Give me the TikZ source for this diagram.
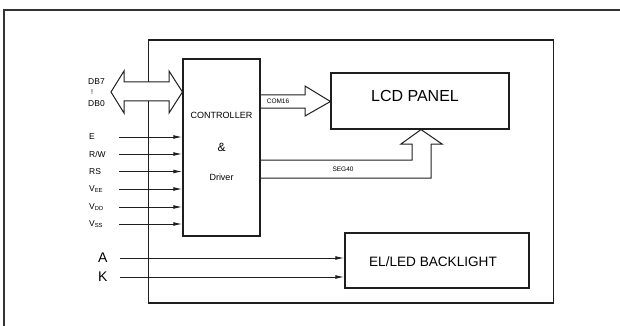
\documentclass[tikz,border=0pt]{standalone}
\usepackage{fontspec}
\setmainfont{Liberation Sans}
\usetikzlibrary{arrows.meta}
\definecolor{ink}{HTML}{1E1E1E}
\definecolor{frame}{HTML}{333333}
\newcommand{\sublbl}[2]{#1\raisebox{-1.6pt}{\fontsize{5.8}{6}\selectfont #2}}
\begin{document}
\begin{tikzpicture}[x=1pt,y=-1pt,
  box/.style={draw=ink,line width=1.1pt,inner sep=0pt},
  sig/.style={draw=ink,line width=1pt,-{Latex[length=9pt,width=3.8pt]}},
  pin/.style={font=\fontsize{8.5}{9}\selectfont,anchor=west,inner sep=0pt,text=black},
  bigpin/.style={font=\fontsize{14}{15}\selectfont,anchor=west,inner sep=0pt,text=black},
  tiny/.style={font=\fontsize{6.5}{7}\selectfont,inner sep=0pt,text=black},
  fat/.style={draw=ink,line width=1pt,line join=miter}]
\useasboundingbox (0,0) rectangle (620,326);
% outer frame (open at right and bottom)
\draw[frame,line width=2pt] (4,326) -- (4,10) -- (620,10);
% module outline
\node[box,minimum width=405pt,minimum height=263pt] (module) at (351,171.5) {};
% blocks
\node[box,fill=white,minimum width=77pt,minimum height=177pt] (ctrl) at (221.5,147.5) {};
\node[box,fill=white,minimum width=178pt,minimum height=56pt] (lcd) at (420,101) {};
\node[box,fill=white,minimum width=184pt,minimum height=55pt] (el) at (437,260.5) {};
% block texts
\node[font=\fontsize{9}{10}\selectfont] (tc) at (221.5,115) {CONTROLLER};
\node[font=\fontsize{12}{13}\selectfont] (tamp) at (221.5,147) {\&};
\node[font=\fontsize{9}{10}\selectfont] (td) at (221.5,177) {Driver};
\node[font=\fontsize{16}{17}\selectfont] (tlcd) at (415,96) {LCD PANEL};
\node[font=\fontsize{13.6}{15}\selectfont] (tel) at (433,262) {EL/LED BACKLIGHT};
% data bus double arrow
\draw[fat,fill=white] (111,92) -- (124,71) -- (124,82) -- (169,82) -- (169,71)
   -- (ctrl.west |- 0,92) -- (169,113) -- (169,101) -- (124,101) -- (124,113) -- cycle;
\node[pin] (db7) at (88,82) {DB7};
\node[pin,font=\fontsize{7}{7}\selectfont] (dbc) at (91,92.5) {!};
\node[pin] (db0) at (88,104) {DB0};
% COM16 open arrow
\draw[fat] (ctrl.east |- 0,95) -- (305,95) -- (305,86) -- (lcd.west |- 0,101.5)
   -- (305,116) -- (305,108) -- (ctrl.east |- 0,108);
\node[tiny] (com) at (278,101) {COM16};
% SEG40 open arrow
\draw[fat] (ctrl.east |- 0,160) -- (412,160) -- (412,144) -- (401,144) -- (lcd.south -| 421,0)
   -- (442,144) -- (431,144) -- (431,178) -- (ctrl.east |- 0,178);
\node[tiny] (seg) at (343,169) {SEG40};
% control inputs
\foreach \nm/\yy/\txt in {e/137/E, rw/154/{R/W}, rs/171.5/RS,
    vee/189/{\sublbl{V}{EE}}, vdd/207/{\sublbl{V}{DD}}, vss/224/{\sublbl{V}{SS}}}{
  \node[pin] (l\nm) at (89,\yy) {\txt};
  \coordinate (s\nm) at (119,\yy);
  \draw[sig] (s\nm) -- (s\nm -| ctrl.west);
}
% backlight inputs
\node[bigpin] (la) at (98,258) {A};
\node[bigpin] (lk) at (98,277) {K};
\coordinate (sa) at (120,258);
\coordinate (sk) at (120,277);
\draw[sig] (sa) -- (sa -| el.west);
\draw[sig] (sk) -- (sk -| el.west);
\end{tikzpicture}
\end{document}
